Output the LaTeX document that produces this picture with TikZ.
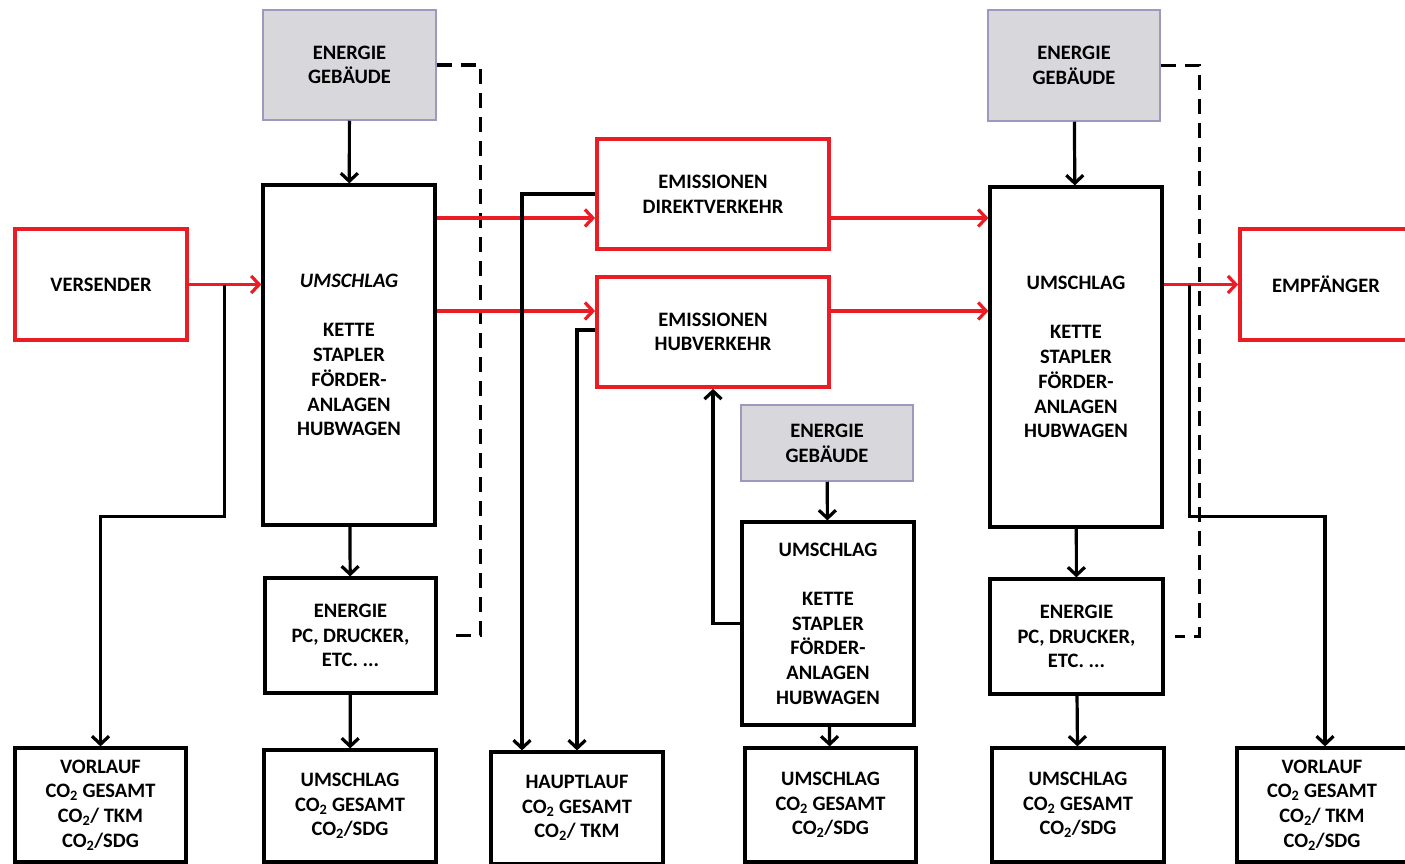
\documentclass[tikz,border=0pt]{standalone}
\usepackage{fontspec}
\setmainfont{Carlito}
\usetikzlibrary{arrows.meta,calc}
\definecolor{boxred}{RGB}{236,28,36}
\definecolor{egfill}{RGB}{216,216,220}
\definecolor{egline}{RGB}{160,150,190}
\tikzset{
  base/.style={draw, line width=3.2pt, inner sep=0pt, align=center,
    font=\fontsize{20.5}{24.7}\selectfont\bfseries},
  blkbox/.style={base, draw=black},
  redbox/.style={base, draw=boxred, line width=3.8pt},
  egbox/.style={base, draw=egline, fill=egfill, line width=1.5pt},
  tip/.style={-{Straight Barb[length=8pt,width=17pt]}},
  blkline/.style={line width=3.2pt, draw=black, tip},
  redline/.style={line width=3.2pt, draw=boxred, tip},
  dashline/.style={line width=3.2pt, draw=black, dash pattern=on 15pt off 9pt},
}
\begin{document}
\begin{tikzpicture}[x=1pt,y=-1pt]
\clip (0,0) rectangle (1405,864);
\fill[white] (0,0) rectangle (1405,864);
% top energy boxes
\node[egbox, minimum width=173pt, minimum height=110pt] (eg1) at (349.5,65) {ENERGIE\\GEBÄUDE};
\node[egbox, minimum width=172pt, minimum height=111pt] (eg2) at (1074,65.5) {ENERGIE\\GEBÄUDE};
\node[egbox, minimum width=172pt, minimum height=76pt] (eg3) at (827,443) {ENERGIE\\GEBÄUDE};
% umschlag boxes
\node[blkbox, minimum width=172pt, minimum height=340pt] (u1) at (349,355) {\itshape UMSCHLAG\\ \\KETTE\\STAPLER\\FÖRDER-\\ANLAGEN\\HUBWAGEN};
\node[blkbox, minimum width=172pt, minimum height=340pt] (u2) at (1076,357) {UMSCHLAG\\ \\KETTE\\STAPLER\\FÖRDER-\\ANLAGEN\\HUBWAGEN};
\node[blkbox, minimum width=172pt, minimum height=203pt] (u3) at (828,623.5) {UMSCHLAG\\ \\KETTE\\STAPLER\\FÖRDER-\\ANLAGEN\\HUBWAGEN};
% red boxes
\node[redbox, minimum width=172pt, minimum height=111pt] (vers) at (101,284.5) {VERSENDER};
\node[redbox, minimum width=232pt, minimum height=110pt] (emd) at (713,194) {EMISSIONEN\\DIREKTVERKEHR};
\node[redbox, minimum width=232pt, minimum height=110pt] (emh) at (713,332) {EMISSIONEN\\HUBVERKEHR};
\node[redbox, minimum width=172pt, minimum height=111pt] (emp) at (1326,284.5) {EMPFÄNGER};
% energie pc boxes
\node[blkbox, minimum width=171pt, minimum height=115pt] (ep1) at (350.5,635.5) {ENERGIE\\PC, DRUCKER,\\ETC. ...};
\node[blkbox, minimum width=173pt, minimum height=115pt] (ep2) at (1076.5,636.5) {ENERGIE\\PC, DRUCKER,\\ETC. ...};
% bottom boxes
\node[blkbox, minimum width=171pt, minimum height=114pt] (vl1) at (100.5,805) {VORLAUF\\CO\textsubscript{2} GESAMT\\CO\textsubscript{2}/ TKM\\CO\textsubscript{2}/SDG};
\node[blkbox, minimum width=172pt, minimum height=112pt] (um1) at (350,806) {UMSCHLAG\\CO\textsubscript{2} GESAMT\\CO\textsubscript{2}/SDG};
\node[blkbox, minimum width=172pt, minimum height=112pt] (hl) at (577,808) {HAUPTLAUF\\CO\textsubscript{2} GESAMT\\CO\textsubscript{2}/ TKM};
\node[blkbox, minimum width=171pt, minimum height=114pt] (um2) at (830.5,805) {UMSCHLAG\\CO\textsubscript{2} GESAMT\\CO\textsubscript{2}/SDG};
\node[blkbox, minimum width=172pt, minimum height=114pt] (um3) at (1078,805) {UMSCHLAG\\CO\textsubscript{2} GESAMT\\CO\textsubscript{2}/SDG};
\node[blkbox, minimum width=170pt, minimum height=114pt] (vl2) at (1322,805) {VORLAUF\\CO\textsubscript{2} GESAMT\\CO\textsubscript{2}/ TKM\\CO\textsubscript{2}/SDG};
% helper coordinates
\coordinate (a1) at ([yshift=-24pt]emd.west);
\coordinate (a2) at ([yshift=21pt]emh.west);
\coordinate (j1) at ($(vers.east)!0.49!(u1.west |- vers.east)$);
\coordinate (j2) at ($(u2.east |- emp.west)+(26,0)$);
% dashed energy links
\draw[dashline] (eg1.east) -| ($(ep1.east)+(43,0)$) -- ([xshift=14pt]ep1.east);
\draw[dashline] (eg2.east) -| ($(ep2.east)+(35,0)$) -- ([xshift=10pt]ep2.east);
% vertical black arrows
\draw[blkline] (eg1) -- (u1);
\draw[blkline] (u1) -- (ep1);
\draw[blkline] (ep1) -- (um1);
\draw[blkline] (eg2) -- (u2);
\draw[blkline] (u2) -- (ep2);
\draw[blkline] (ep2) -- (um3);
\draw[blkline] (eg3) -- (u3);
\draw[blkline] (u3) -- (um2);
% red flows
\draw[redline] (vers.east) -- (u1.west |- vers.east);
\draw[redline] (u1.east |- a1) -- (a1);
\draw[redline] (u1.east |- a2) -- (a2);
\draw[redline] (emd.east |- a1) -- (u2.west |- a1);
\draw[redline] (emh.east |- a2) -- (u2.west |- a2);
\draw[redline] (u2.east |- emp.west) -- (emp.west);
% branch lines
\draw[blkline] (j1) -- ++(0,232) -| (vl1.north);
\draw[blkline] (j2) -- ++(0,232) -| ([xshift=3pt]vl2.north);
\draw[blkline] (emd.west) -| ([xshift=-55pt]hl.north);
\draw[blkline] ([yshift=2pt]emh.west) -| (hl.north);
\draw[blkline] (u3.west) -| (emh.south);
\end{tikzpicture}
\end{document}
